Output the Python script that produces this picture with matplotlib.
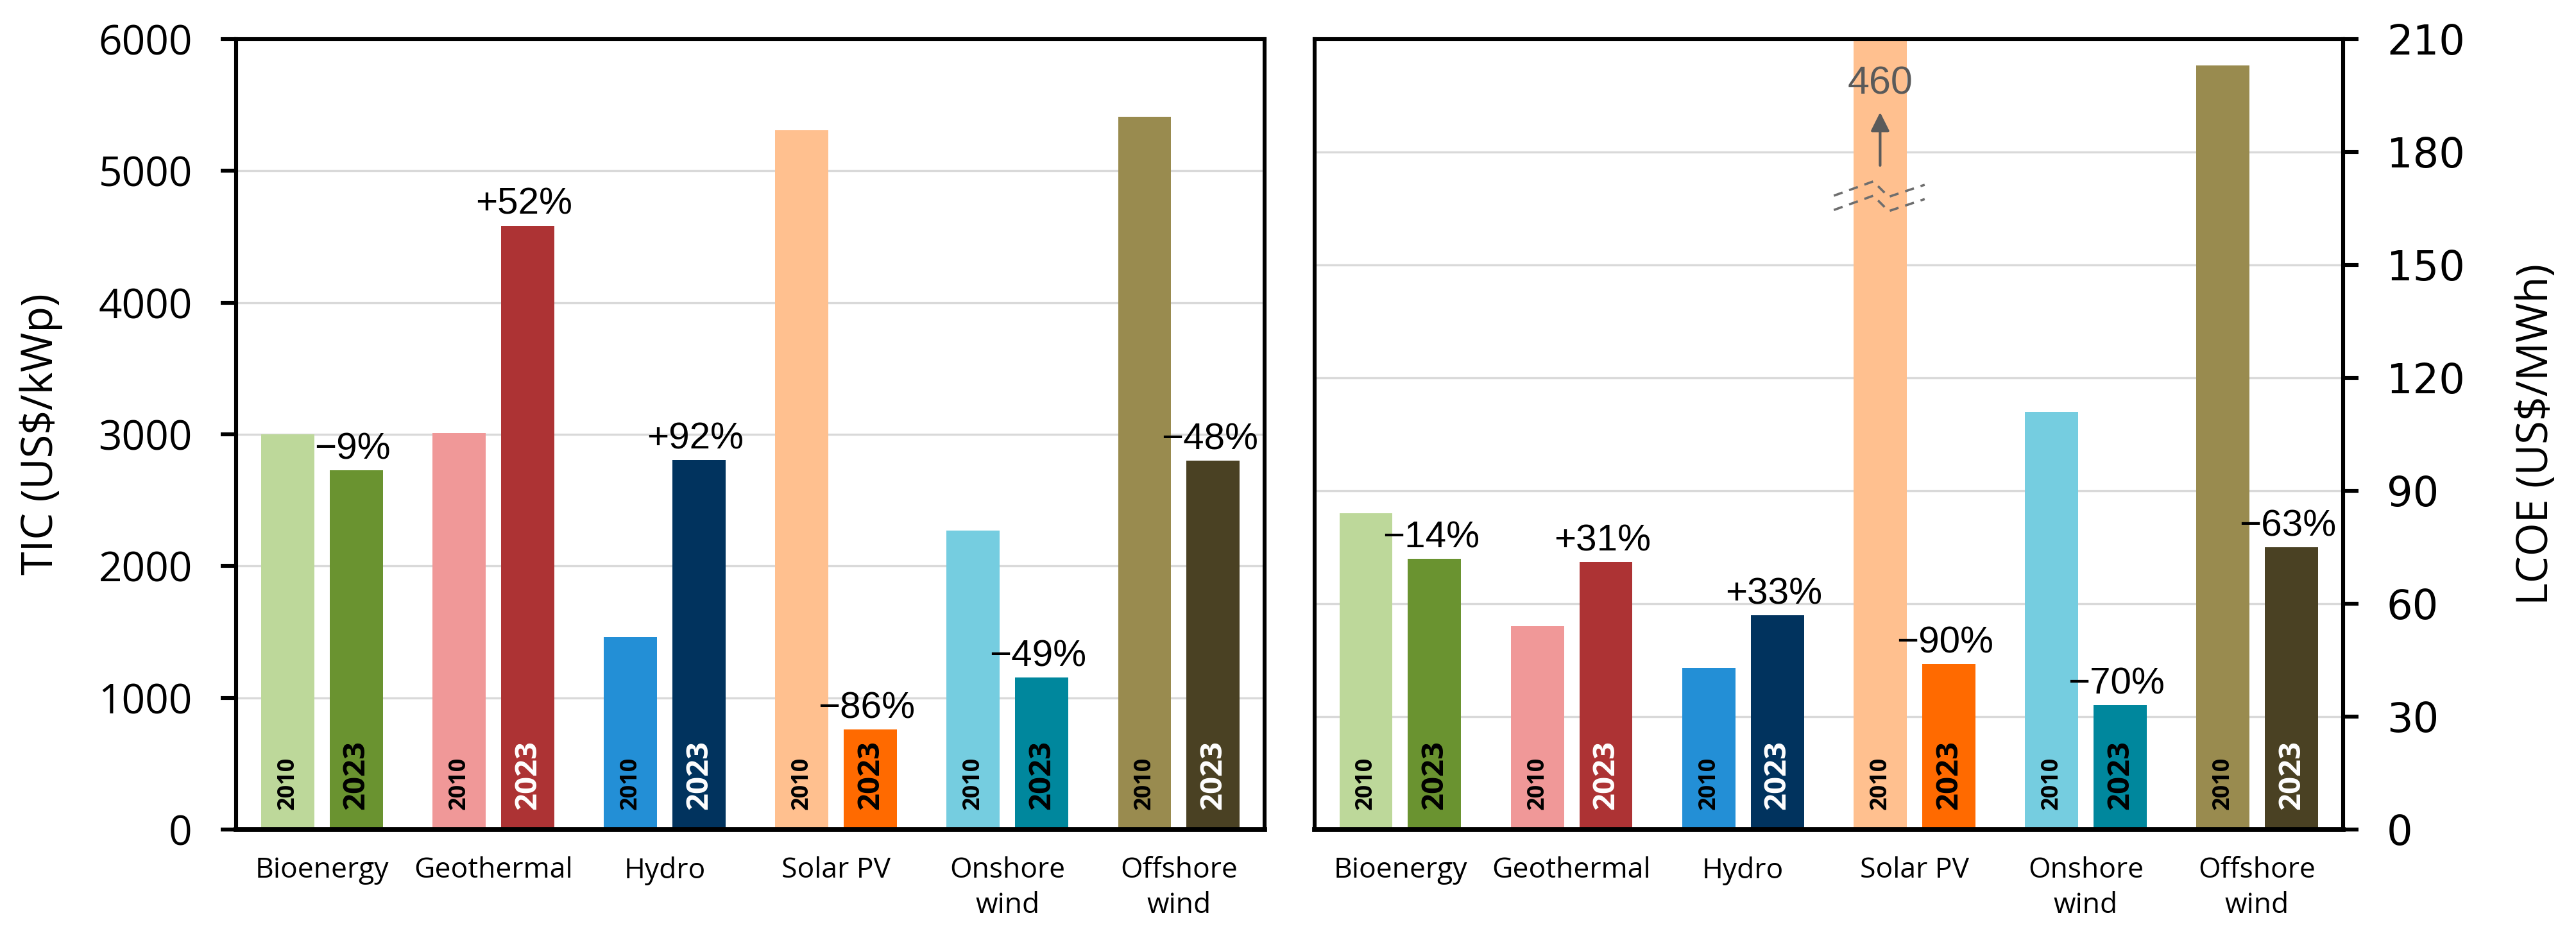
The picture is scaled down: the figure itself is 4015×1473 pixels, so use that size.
import matplotlib
matplotlib.use("Agg")
import matplotlib.pyplot as plt
import numpy as np

# * Data
categories = ["Bioenergy", "Geothermal", "Hydro", "Solar PV", "Onshore\nwind", "Offshore\nwind"]
tic_2010 = [3000, 3010, 1460, 5310, 2270, 5410]      # US$/kWp
tic_2023 = [2725, 4585, 2805, 760, 1155, 2800]
lcoe_2010 = [84, 54, 43, 460, 111, 203]               # US$/MWh
lcoe_2023 = [72, 71, 57, 44, 33, 75]
tic_ticks = [0, 1000, 2000, 3000, 4000, 5000, 6000]
lcoe_ticks = [0, 30, 60, 90, 120, 150, 180, 210]

# * Style
col_2010 = ["#bdd89a", "#f09898", "#238fd6", "#ffc08f", "#75cde0", "#998b4f"]
col_2023 = ["#6a9330", "#ad3334", "#01335e", "#ff6a00", "#00879d", "#4a4123"]
txt_2023 = ["black", "white", "white", "black", "black", "white"]
FONT_AX = "Open Sans"
FONT_PCT = "Liberation Sans"
BAR_W = 0.31
OFF = 0.2
GRAY = "#5a5a5a"


def pct_label(a, b):
    v = int(round((b / a - 1) * 100))
    return f"+{v}%" if v > 0 else f"\u2212{abs(v)}%"


def draw_panel(ax, v10, v23, ticks):
    x = np.arange(len(categories))
    ax.bar(x - OFF, v10, BAR_W, color=col_2010, zorder=2)
    ax.bar(x + OFF, v23, BAR_W, color=col_2023, zorder=2)
    ax.set_xlim(-0.5, len(categories) - 0.5)
    ax.set_ylim(ticks[0], ticks[-1])
    ax.set_yticks(ticks)
    ax.set_xticks(x)
    ax.set_xticklabels(categories, fontfamily=FONT_AX, fontsize=16, linespacing=1.3)
    ax.tick_params(axis="x", length=0, pad=15)
    ax.tick_params(axis="y", length=8.6, width=2.2, pad=16, labelsize=23)
    for lab in ax.get_yticklabels():
        lab.set_fontfamily(FONT_AX)
    ax.yaxis.grid(True, color="#d9d9d9", lw=1.2)
    ax.set_axisbelow(True)
    for s in ax.spines.values():
        s.set_linewidth(2.2)
        s.set_zorder(5)
    ax.spines["bottom"].set_linewidth(2.8)
    for i in range(len(categories)):
        ax.annotate("2010", (x[i] - OFF, 0), xytext=(0, 11), textcoords="offset points",
                    rotation=90, ha="center", va="bottom", fontsize=13,
                    fontweight="bold", fontfamily=FONT_AX, color="black", zorder=4)
        ax.annotate("2023", (x[i] + OFF, 0), xytext=(0, 11), textcoords="offset points",
                    rotation=90, ha="center", va="bottom", fontsize=17,
                    fontweight="bold", fontfamily=FONT_AX, color=txt_2023[i], zorder=4)
        ax.annotate(pct_label(v10[i], v23[i]), (x[i] + OFF, v23[i]), xytext=(-2, 2),
                    textcoords="offset points", ha="center", va="bottom",
                    fontsize=21, fontfamily=FONT_PCT, color="black", zorder=4)
    return x


fig = plt.figure(figsize=(20.075, 7.365), dpi=200)
ax1 = fig.add_axes([0.0917, 0.1222, 0.3992, 0.8364])
ax2 = fig.add_axes([0.5103, 0.1222, 0.3992, 0.8364])

# Left : total installed cost
draw_panel(ax1, tic_2010, tic_2023, tic_ticks)
ax1.set_ylabel("TIC (US$/kWp)", fontfamily=FONT_AX, fontsize=24, labelpad=20)

# Right : levelised cost of electricity
x = draw_panel(ax2, lcoe_2010, lcoe_2023, lcoe_ticks)
ax2.yaxis.tick_right()
ax2.yaxis.set_label_position("right")
ax2.tick_params(axis="y", left=False, right=True)
ax2.set_ylabel("LCOE (US$/MWh)", fontfamily=FONT_AX, fontsize=24, labelpad=28)

# Solar PV 2010 is off the scale : break mark + arrow with the real value
ib = int(np.argmax(lcoe_2010))
xb = x[ib] - OFF
brk = 170
zx = np.array([-0.27, -0.04, 0.05, 0.26])
zy = np.array([-1.6, 2.2, -1.9, 1.3])
for dy in (0, -3.8):
    ax2.plot(xb + zx, brk + zy + dy, ls=(0, (4, 3)), color="#6e6e6e", lw=1.3, zorder=3)
ax2.annotate("", xy=(xb, 191.5), xytext=(xb, 175.5),
             arrowprops=dict(arrowstyle="-|>", color=GRAY, lw=1.5, mutation_scale=22),
             zorder=4)
ax2.text(xb, 198, f"{lcoe_2010[ib]}", ha="center", va="center", fontsize=22,
         fontfamily=FONT_PCT, color=GRAY, zorder=4)

fig.savefig("out.png", dpi=200)
